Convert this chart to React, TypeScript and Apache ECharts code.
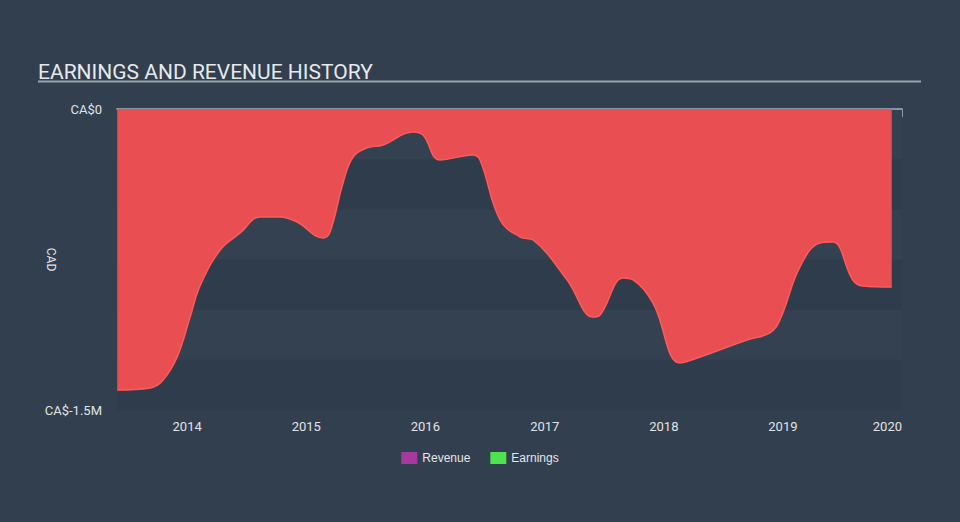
import React, { useEffect, useRef } from "react";
import * as echarts from "echarts";

// Earnings history: decimal years and values (CAD)
const earningsYears = [
  2013.413, 2013.69, 2013.799, 2013.916, 2014.025, 2014.109, 2014.277,
  2014.445, 2014.612, 2014.78, 2014.923, 2015.141, 2015.2, 2015.309, 2015.393,
  2015.51, 2015.644, 2015.896, 2015.98, 2016.122, 2016.399, 2016.458, 2016.626,
  2016.794, 2016.903, 2017.188, 2017.406, 2017.465, 2017.658, 2017.742, 2017.909,
  2018.136, 2018.304, 2018.698, 2018.891, 2018.975, 2019.143, 2019.31, 2019.419,
  2019.587, 2019.671, 2019.914,
];
const earningsValues = [
  -1400000, -1390000, -1350000, -1236000, -1037000, -880000, -703000,
  -618000, -538000, -538000, -563000, -643000, -613000, -369000, -239000,
  -194000, -179000, -115000, -130000, -254000, -229000, -254000, -553000,
  -638000, -653000, -852000, -1037000, -1027000, -842000, -852000, -967000,
  -1266000, -1236000, -1151000, -1116000, -1051000, -787000, -668000, -663000,
  -852000, -882000, -887000,
];
const revenueValues: number[] = [];
const yTickLabels: Record<string, string> = { "0": "CA$0", "-1500000": "CA$-1.5M" };

const xMin = "2013-05-31";
const xMax = "2020-01-01";

function yearToTime(y: number): number {
  const yr = Math.floor(y);
  const start = Date.UTC(yr, 0, 1);
  const end = Date.UTC(yr + 1, 0, 1);
  return start + (y - yr) * (end - start);
}

export default function App() {
  const ref = useRef<HTMLDivElement>(null);
  useEffect(() => {
    if (!ref.current) return;
    const chart = echarts.init(ref.current, null, { renderer: "svg" });
    const earnings = earningsYears.map((y, i) => [yearToTime(y), earningsValues[i]]);
    chart.setOption({
      animation: false,
      backgroundColor: "#323f4e",
      textStyle: { fontFamily: "Roboto, sans-serif" },
      title: {
        text: "EARNINGS AND REVENUE HISTORY",
        left: 33,
        top: 56,
        textStyle: { color: "#e6e9ec", fontSize: 21, fontWeight: "normal", fontFamily: "Roboto, sans-serif" },
      },
      graphic: [
        {
          type: "line",
          shape: { x1: 38, y1: 81.5, x2: 921, y2: 81.5 },
          style: { stroke: "#9aa3ad", lineWidth: 2 },
        },
      ],
      legend: {
        bottom: 53,
        left: "center",
        icon: "rect",
        itemWidth: 16,
        itemHeight: 12,
        itemGap: 20,
        textStyle: { color: "#e4e6e9", fontSize: 12, fontFamily: "Liberation Sans, Arial, sans-serif" },
        data: ["Revenue", "Earnings"],
      },
      grid: { left: 117, right: 58, top: 109, bottom: 112 },
      xAxis: [
        {
          type: "time",
          min: xMin,
          max: xMax,
          minInterval: 365 * 24 * 3600 * 1000,
          axisLine: { show: true, lineStyle: { color: "#8d9aab", width: 1.5 } },
          axisTick: { show: true, length: 8, lineStyle: { color: "#8d9aab" } },
          axisLabel: {
            color: "#e0e3e6",
            fontSize: 13,
            formatter: "{yyyy}",
            margin: 10,
            showMinLabel: false,
            showMaxLabel: true,
            alignMaxLabel: "right",
          },
          splitLine: { show: false },
        },
        {
          type: "time",
          position: "top",
          min: xMin,
          max: xMax,
          axisLine: { show: true, lineStyle: { color: "#8d9aab", width: 1.5 } },
          axisTick: { show: false },
          axisLabel: { show: false },
          splitLine: { show: false },
        },
      ],
      yAxis: {
        type: "value",
        min: -1500000,
        max: 0,
        interval: 250000,
        name: "CAD",
        nameLocation: "middle",
        nameRotate: -90,
        nameGap: 60,
        nameMoveOverlap: false,
        nameTextStyle: { color: "#e0e3e6", fontSize: 12 },
        axisLine: { show: false },
        axisTick: { show: false },
        axisLabel: {
          color: "#e0e3e6",
          fontSize: 13,
          margin: 15,
          formatter: (v: number) => yTickLabels[String(v)] ?? "",
        },
        splitLine: { show: false },
        splitArea: { show: true, areaStyle: { color: ["#2f3c4b", "#334151"] } },
      },
      series: [
        {
          name: "Revenue",
          type: "line",
          data: revenueValues,
          itemStyle: { color: "#a53a9e" },
          showSymbol: false,
        },
        {
          name: "Earnings",
          type: "line",
          data: earnings,
          smooth: 0.4,
          showSymbol: false,
          itemStyle: { color: "#4fe24f" },
          lineStyle: { color: "#ff5a5a", width: 1.5 },
          areaStyle: { color: "#e94f52", opacity: 1, origin: "end" },
          z: 3,
        },
      ],
    });
    return () => chart.dispose();
  }, []);
  return <div ref={ref} style={{ width: 960, height: 522, position: "absolute", left: 0, top: 0 }} />;
}
